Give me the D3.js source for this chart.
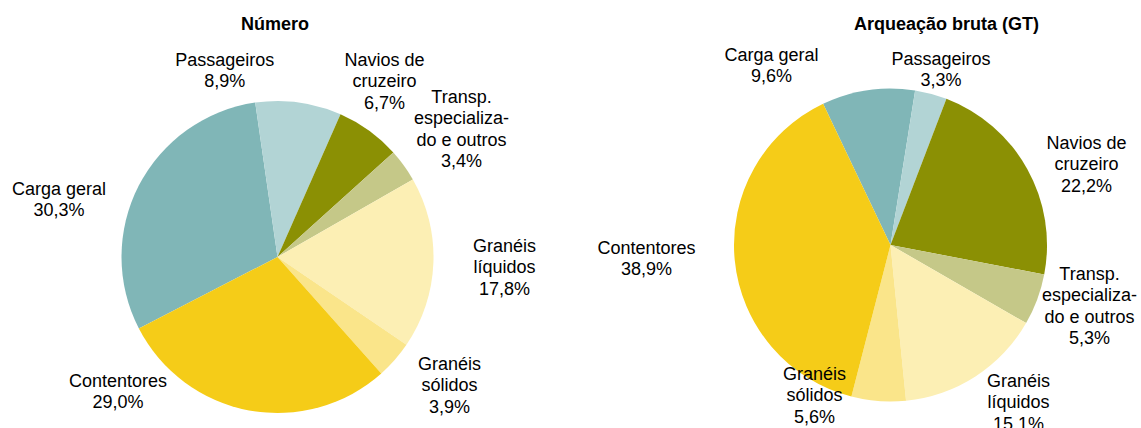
<!DOCTYPE html>
<html>
<head>
<meta charset="utf-8">
<script src="https://cdn.jsdelivr.net/npm/d3@7"></script>
<style>
  body { margin: 0; background: #fff; }
  svg text { font-family: "Liberation Sans", Arial, sans-serif; fill: #000; }
</style>
</head>
<body>
<svg id="chart" width="1141" height="428"></svg>
<script>
// categories, in the order the slices are drawn (clockwise)
var categories = ["Carga geral", "Passageiros", "Navios de cruzeiro",
  "Transp. especializado e outros", "Granéis líquidos", "Granéis sólidos", "Contentores"];

// how each category label is broken into lines
var labelLines = [["Carga geral"], ["Passageiros"], ["Navios de", "cruzeiro"],
  ["Transp.", "especializa-", "do e outros"], ["Granéis", "líquidos"],
  ["Granéis", "sólidos"], ["Contentores"]];

// shares (%)
var numeroValues = [30.3, 8.9, 6.7, 3.4, 17.8, 3.9, 29.0];
var arqueacaoValues = [9.6, 3.3, 22.2, 5.3, 15.1, 5.6, 38.9];

var titles = ["Número", "Arqueação bruta (GT)"];

var colors = ["#80b6b7", "#b2d4d5", "#8b9004", "#c5c888", "#fcefb4", "#fae58a", "#f5cc18"];

/*
Layout for both pies: centre, radius, first slice angle (deg),
title position and label anchors (offset from the centre,
x = centre of text, y = baseline of first line)
*/
var pies = [
  {values: numeroValues, title: titles[0], cx: 277.5, cy: 257, r: 156, start: -117.3,
   titleX: 275, titleY: 30,
   labels: [[-218.5, -62], [-52.7, -191], [107, -191], [184, -154],
            [227, -5], [172, 113], [-159.5, 130]]},
  {values: arqueacaoValues, title: titles[1], cx: 890.5, cy: 245, r: 156.5, start: -25.5,
   titleX: 946.5, titleY: 30,
   labels: [[-119, -184], [50.5, -180], [196, -96], [199, 35],
            [128, 142], [-76, 135], [-244, 9]]}
];

var lineHeight = 21.3;
var svg = d3.select("#chart");
var color = d3.scaleOrdinal().domain(categories).range(colors);

function fmt(v) {
  return v.toFixed(1).replace(".", ",") + "%";
}

pies.forEach(function(p) {
  var a0 = p.start * Math.PI / 180;
  var pie = d3.pie().sort(null).startAngle(a0).endAngle(a0 + 2 * Math.PI);
  var arc = d3.arc().innerRadius(0).outerRadius(p.r);
  var data = pie(p.values);

  var g = svg.append("g").attr("transform", "translate(" + p.cx + "," + p.cy + ")");

  g.selectAll("path")
    .data(data)
    .enter().append("path")
    .attr("d", arc)
    .attr("fill", function(d, i) { return color(categories[i]); });

  //labels: category lines + percentage
  var lab = g.selectAll("text.lab")
    .data(data)
    .enter().append("text")
    .attr("class", "lab")
    .attr("text-anchor", "middle")
    .style("font-size", "18px")
    .attr("x", function(d, i) { return p.labels[i][0]; })
    .attr("y", function(d, i) { return p.labels[i][1]; });

  lab.each(function(d, i) {
    var t = d3.select(this);
    var lines = labelLines[i].concat([fmt(d.data)]);
    lines.forEach(function(s, k) {
      t.append("tspan")
        .attr("x", p.labels[i][0])
        .attr("dy", k == 0 ? 0 : lineHeight)
        .text(s);
    });
  });

  svg.append("text")
    .attr("x", p.titleX)
    .attr("y", p.titleY)
    .attr("text-anchor", "middle")
    .style("font-size", "18px")
    .style("font-weight", "bold")
    .text(p.title);
});
</script>
</body>
</html>
